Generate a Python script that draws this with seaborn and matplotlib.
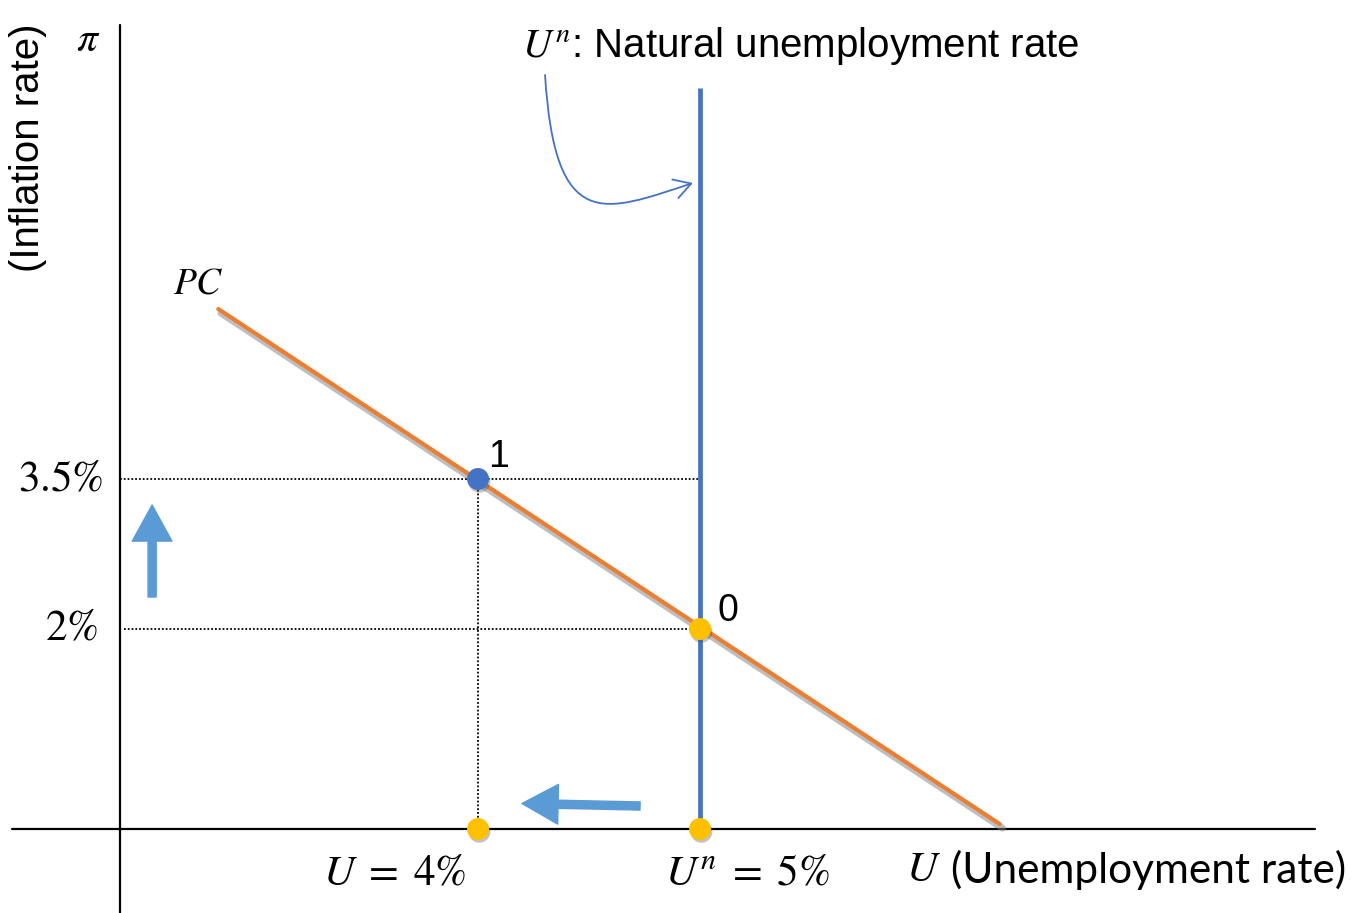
import numpy as np
import pandas as pd
import seaborn as sns
import matplotlib.pyplot as plt
import matplotlib.patheffects as pe
from matplotlib.patches import FancyArrowPatch
from matplotlib.path import Path

# Phillips curve (unemployment %, inflation %)
pc_u = [2.83, 6.35]
pc_pi = [5.2, 0.05]

u_natural = 5.0
u_now = 4.0
pi_start = 2.0
pi_new = 3.5
un_top = 7.41

point_u = [4.0, 5.0]
point_pi = [3.5, 2.0]
point_names = ["1", "0"]
point_colors = ["#4472C4", "#FFC000"]
axis_dot_u = [4.0, 5.0]
axis_dot_pi = [0.0, 0.0]

tick_pi = [3.5, 2.0]
tick_pi_labels = [r"$3.5\%$", r"$2\%$"]
tick_pi_right = [2.311, 2.288]

sns.set_theme(style="white")
plt.rcParams["mathtext.fontset"] = "stix"
plt.rcParams["font.family"] = ["Liberation Sans", "DejaVu Sans"]
plt.rcParams["text.color"] = "black"

fig = plt.figure(figsize=(13.65, 9.13), dpi=100)
ax = fig.add_axes([0, 0, 1, 1])
ax.set_xlim(1.8468, 7.9955)
ax.set_ylim(-0.84, 8.29)
ax.axis("off")

x_axis_pos = 2.387  # where the vertical axis is drawn

# axes
ax.plot([x_axis_pos, x_axis_pos], [-0.84, 8.04], color="black", lw=1.6)
ax.plot([1.901, 7.77], [0, 0], color="black", lw=1.6)

# dotted guides
dots = (0, (1, 1.1))
ax.plot([x_axis_pos, u_natural], [pi_new, pi_new], color="black", lw=1.3, ls=dots)
ax.plot([x_axis_pos + 0.02, u_natural], [pi_start, pi_start], color="black", lw=1.3, ls=dots)
ax.plot([u_now, u_now], [0, pi_new], color="black", lw=1.3, ls=dots)

# natural rate line
ax.vlines(u_natural, 0, un_top, color="#4472C4", lw=3.4, zorder=3)

# Phillips curve
sns.lineplot(x=pc_u, y=pc_pi, ax=ax, color="#ED7D31", lw=3.0, zorder=4,
             path_effects=[pe.SimpleLineShadow(offset=(2, -3), shadow_color="#7f7f7f",
                                                alpha=0.5, linewidth=5),
                           pe.Normal()])

# points
dot_shadow = [pe.SimplePatchShadow(offset=(1, -2), shadow_rgbFace="#555555", alpha=0.35),
              pe.Normal()]
sns.scatterplot(x=point_u, y=point_pi, hue=point_names, palette=point_colors, s=250,
                edgecolor="none", legend=False, ax=ax, zorder=6, path_effects=dot_shadow)
sns.scatterplot(x=axis_dot_u, y=axis_dot_pi, color="#FFC000", s=250,
                edgecolor="none", legend=False, ax=ax, zorder=6, path_effects=dot_shadow)

ax.text(4.045, 3.72, point_names[0], fontsize=27, ha="left", va="center")
ax.text(5.077, 2.18, point_names[1], fontsize=27, ha="left", va="center")

# movement arrows
arr_col = "#5B9BD5"
ax.add_patch(FancyArrowPatch((2.532, 2.32), (2.532, 3.24),
                             arrowstyle="simple,head_width=2.2,head_length=2.0,tail_width=0.45",
                             mutation_scale=13, color=arr_col, shrinkA=0, shrinkB=0))
ax.add_patch(FancyArrowPatch((4.73, 0.23), (4.198, 0.255),
                             arrowstyle="simple,head_width=2.2,head_length=2.0,tail_width=0.45",
                             mutation_scale=13, color=arr_col, shrinkA=0, shrinkB=0))

# thin pointer to the natural rate line
verts = [(4.302, 7.54), (4.347, 5.94), (4.57, 6.17), (4.968, 6.46)]
curve = Path(verts, [Path.MOVETO, Path.CURVE4, Path.CURVE4, Path.CURVE4])
ax.add_patch(FancyArrowPatch(path=curve, arrowstyle="->,head_length=0.6,head_width=0.35",
                             mutation_scale=20, color="#4472C4", lw=1.3))

# labels
ax.text(4.198, 7.72, r"$U^n$: Natural unemployment rate", fontsize=29, va="baseline")
ax.text(1.973, 6.81, "(Inflation rate)", fontsize=29, rotation=90, ha="center", va="center")
ax.text(2.243, 7.89, r"$\pi$", fontsize=30, ha="center", va="center")
ax.text(2.739, 5.46, r"$PC$", fontsize=27, ha="center", va="center")
for yv, lab, xr in zip(tick_pi, tick_pi_labels, tick_pi_right):
    ax.text(xr, yv, lab, fontsize=31, ha="right", va="center")
ax.text(3.626, -0.44, r"$U\;=\;4\%$", fontsize=31, ha="center", va="center")
ax.text(5.212, -0.44, r"$U^n\;=\;5\%$", fontsize=31, ha="center", va="center")
ax.text(5.93, -0.41, r"$U$", fontsize=31, ha="left", va="center")
ax.text(6.13, -0.41, "(Unemployment rate)", fontsize=30.5, ha="left", va="center",
        family=["Lato", "DejaVu Sans"])

fig.savefig("out.png", dpi=100)
